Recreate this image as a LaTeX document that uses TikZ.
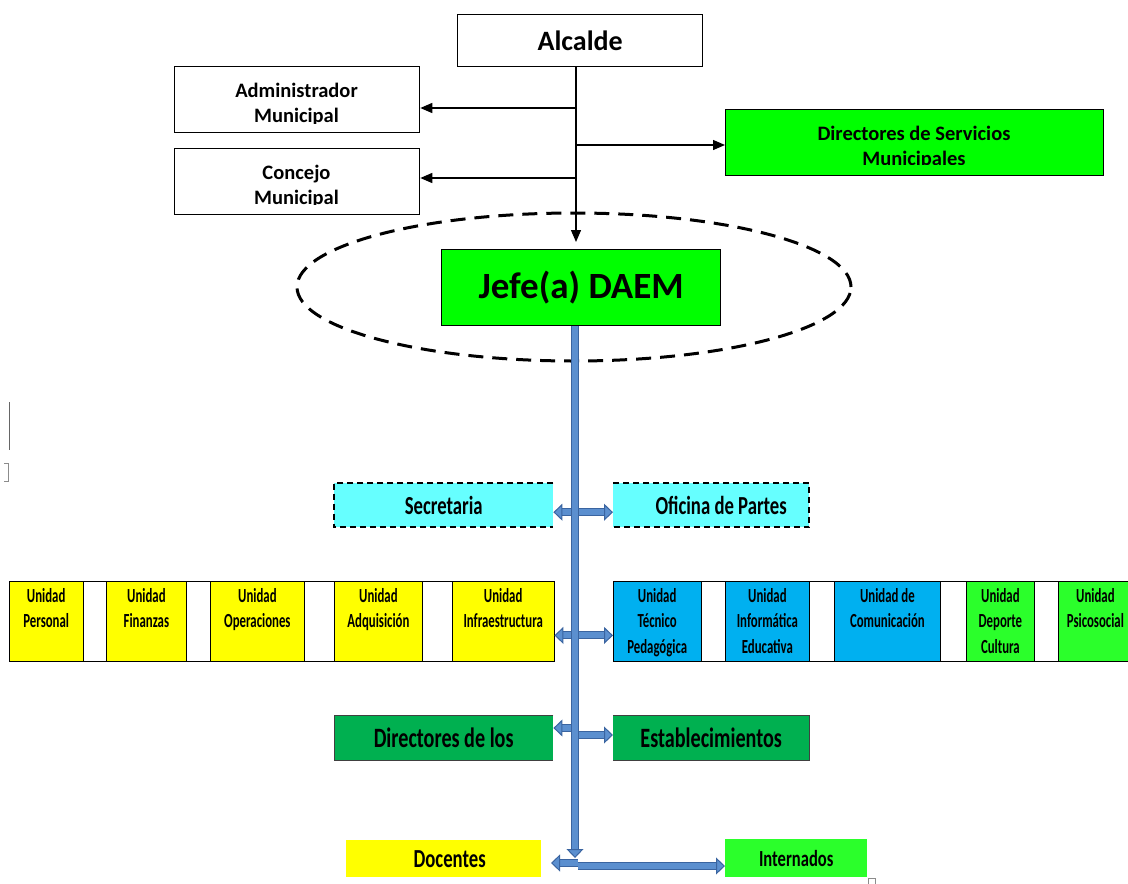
\documentclass[tikz,border=0pt]{standalone}
\usepackage{fontspec}
\setmainfont{Carlito}
\newfontfamily\cond[FakeStretch=0.72]{Carlito}
\newfontfamily\ucond[FakeStretch=0.64]{Carlito}
\usetikzlibrary{arrows.meta,shapes.geometric}
\definecolor{gA}{HTML}{00FF00}
\definecolor{gL}{HTML}{2BFF2B}
\definecolor{gD}{HTML}{00B050}
\definecolor{yl}{HTML}{FFFF00}
\definecolor{cy}{HTML}{66FFFF}
\definecolor{bl}{HTML}{00B0F0}
\definecolor{barL}{HTML}{5B8FCF}
\definecolor{barD}{HTML}{3A64A0}
\tikzset{bt/.tip={Triangle[length=9pt,width=17pt,fill=barL,color=barD,line width=1pt]}}
\begin{document}
\begin{tikzpicture}[x=1pt,y=-1pt,
 box/.style={draw, line width=1.3pt, inner sep=0pt, anchor=north west},
 ttl/.style={font=\bfseries\fontsize{20.5}{25}\selectfont, align=center, inner sep=0pt},
 arr/.style={line width=1.3pt, -{Triangle[length=12pt,width=10pt]}},
 bshaft/.style={draw=barD, double=barL, double distance=6pt, line width=1pt},
 cell/.style={draw, line width=0.8pt, inner sep=0pt, anchor=north west, minimum height=80pt},
 ulab/.style={anchor=north, align=center, inner sep=0pt, yshift=-7pt, font=\ucond\bfseries\fontsize{20}{25.5}\selectfont},
 mid/.style={inner sep=0pt, anchor=north west, minimum height=44pt},
 ctxt/.style={font=\cond\bfseries\fontsize{26}{30}\selectfont},
 dtxt/.style={font=\cond\bfseries\fontsize{28}{30}\selectfont},
 sdash/.style={line width=2pt, dash pattern=on 6pt off 4pt},
 gbord/.style={line width=1pt, draw=black!75},
]
\useasboundingbox (0,0) rectangle (1128,884);

% top level
\node[box, minimum width=245pt, minimum height=52pt, font=\bfseries\fontsize{28}{30}\selectfont] (alc) at (457,14) {Alcalde};
\node[box, minimum width=245pt, minimum height=66pt] (adm) at (174,66) {};
\node[box, minimum width=245pt, minimum height=66pt] (con) at (174,148) {};
\node[box, fill=gA, minimum width=378pt, minimum height=66pt] (dsm) at (725,109) {};
\begin{scope}
\clip (174,66) rectangle (419,123);
\node[ttl] (admT) at (296.5,104) {Administrador\\Municipal};
\end{scope}
\begin{scope}
\clip (174,148) rectangle (419,204);
\node[ttl] (conT) at (296.5,186) {Concejo\\Municipal};
\end{scope}
\begin{scope}
\clip (725,109) rectangle (1103,164);
\node[ttl] (dsmT) at (914,147) {Directores de Servicios\\Municipales};
\end{scope}

% ellipse and head
\node[draw, ellipse, line width=3pt, dash pattern=on 15pt off 9pt, minimum width=554pt, minimum height=148pt, inner sep=0pt] (ell) at (574,287) {};
\node[box, fill=gA, minimum width=279pt, minimum height=76pt, font=\bfseries\fontsize{37}{40}\selectfont] (jefe) at (441,249) {Jefe(a) DAEM};

% black connectors
\coordinate (tr) at (576,66);
\coordinate (trEnd) at (576,242);
\coordinate (a1) at (576,108);
\coordinate (a2) at (576,178);
\coordinate (a3) at (576,145);
\draw[arr] (tr) -- (trEnd);
\draw[arr] (a1) -- (a1 -| adm.east);
\draw[arr] (a2) -- (a2 -| con.east);
\draw[arr] (a3) -- (a3 -| dsm.west);

% secretaria row
\node[mid, fill=cy, minimum width=219pt, ctxt] (sec) at (334,483) {Secretaria};
\node[mid, fill=cy, minimum width=196pt, ctxt] (ofi) at (613,483) {\hspace*{20pt}Oficina de Partes};
\draw[sdash] (sec.north east) -- (sec.north west) -- (sec.south west) -- (sec.south east);
\draw[sdash] (ofi.north west) -- (ofi.north east) -- (ofi.south east) -- (ofi.south west);

% unit rows
\node[cell, minimum width=545pt] (rowL) at (8.6,581) {};
\node[cell, minimum width=520pt] (rowR) at (613,581) {};
\node[cell, fill=yl, minimum width=74.4pt, label={[ulab]north:{Unidad\\Personal}}] (u1) at (8.6,581) {};
\node[cell, fill=yl, minimum width=80pt, label={[ulab]north:{Unidad\\Finanzas}}] (u2) at (106,581) {};
\node[cell, fill=yl, minimum width=94pt, label={[ulab]north:{Unidad\\Operaciones}}] (u3) at (210,581) {};
\node[cell, fill=yl, minimum width=88pt, label={[ulab]north:{Unidad\\Adquisición}}] (u4) at (334,581) {};
\node[cell, fill=yl, minimum width=101.6pt, label={[ulab]north:{Unidad\\Infraestructura}}] (u5) at (452,581) {};
\node[cell, fill=bl, minimum width=87.6pt, label={[ulab]north:{Unidad\\Técnico\\Pedagógica}}] (r1) at (613,581) {};
\node[cell, fill=bl, minimum width=84pt, label={[ulab]north:{Unidad\\Informática\\Educativa}}] (r2) at (725,581) {};
\node[cell, fill=bl, minimum width=106pt, label={[ulab]north:{Unidad de\\Comunicación}}] (r3) at (834,581) {};
\node[cell, fill=gL, minimum width=68pt, label={[ulab]north:{Unidad\\Deporte\\Cultura}}] (r4) at (966,581) {};
\node[cell, fill=gL, minimum width=74pt, label={[ulab]north:{Unidad\\Psicosocial}}] (r5) at (1058,581) {};

% directores row
\node[mid, fill=gD, minimum width=219pt, minimum height=45pt, dtxt] (dir) at (334,715) {Directores de los};
\node[mid, fill=gD, minimum width=196pt, minimum height=45pt, dtxt] (est) at (613,715) {Establecimientos};
\draw[gbord] (dir.north east) -- (dir.north west) -- (dir.south west) -- (dir.south east);
\draw[gbord] (est.north west) -- (est.north east) -- (est.south east) -- (est.south west);

% bottom row
\node[inner sep=0pt, anchor=north west, fill=yl, minimum width=195pt, minimum height=37pt, ctxt] (doc) at (346,840) {\hspace*{12pt}Docentes};
\node[inner sep=0pt, anchor=north west, fill=gL, minimum width=142pt, minimum height=38pt, font=\cond\bfseries\fontsize{23}{26}\selectfont] (int) at (725,839) {Internados};

% blue block arrows
\draw[bshaft, {bt}-{bt}] ([yshift=-7pt]sec.east) -- ([yshift=-7pt]ofi.west);
\draw[bshaft, {bt}-{bt}] ([yshift=-14pt]rowL.east) -- ([yshift=-14pt]rowR.west);
\coordinate (d1) at (575,728);
\coordinate (d2) at (575,735);
\draw[bshaft, -{bt}] (d1) -- (d1 -| dir.east);
\draw[bshaft, -{bt}] (d2) -- (d2 -| est.west);
\coordinate (e1) at (578,863);
\coordinate (e1t) at (551,863);
\coordinate (e2) at (578,866);
\draw[bshaft, -{bt}] (e1) -- (e1t);
\draw[bshaft, -{bt}] (e2) -- (e2 -| int.west);
\coordinate (bEnd) at (575,858);
\draw[bshaft, -{bt}] (jefe.south -| bEnd) -- (bEnd);

% stray marks at the page edge
\draw[black!60, line width=1pt] (9,402) -- (9,450);
\draw[black!45, line width=0.6pt] (4,463) -- (8,463) -- (8,481) -- (4,481);
\draw[black!45, line width=0.6pt] (868,884) -- (868,878) -- (875,878) -- (875,884);
\end{tikzpicture}
\end{document}
